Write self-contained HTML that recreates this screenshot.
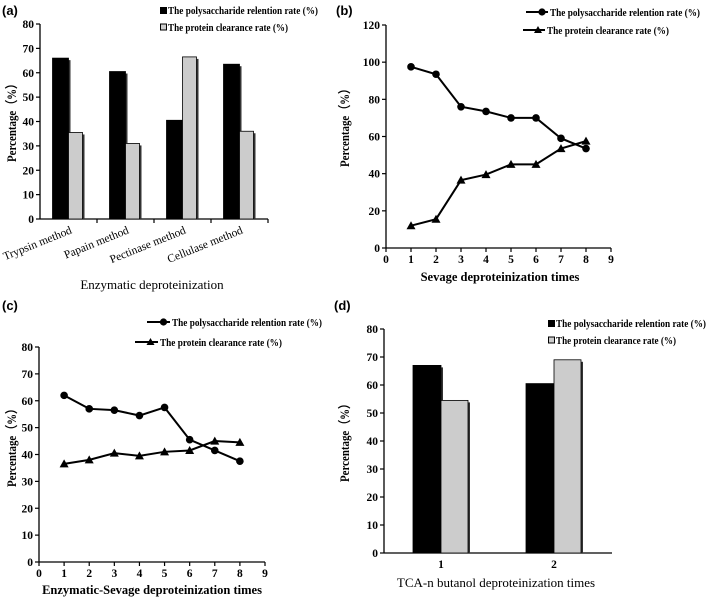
<!DOCTYPE html>
<html><head><meta charset="utf-8"><style>
body{margin:0;background:#fff}
svg{display:block}
text{font-family:"Liberation Serif",serif;font-weight:bold;fill:#000}
</style></head><body>
<svg id="fig" width="709" height="600" viewBox="0 0 709 600"></svg>
<script>
// Panel (a)
const aCats=["Trypsin method","Papain method","Pectinase method","Cellulase method"];
const aPoly=[66,60.5,40.5,63.5];
const aProt=[35.5,31,66.5,36];
const aTicks=[0,10,20,30,40,50,60,70,80];
// Panel (b)
const bX=[1,2,3,4,5,6,7,8];
const bPoly=[97.5,93.5,76,73.5,70,70,59,53.5];
const bProt=[12,15.5,36.5,39.5,45,45,53.5,57.5];
const bTicks=[0,20,40,60,80,100,120];
const xTicks=[0,1,2,3,4,5,6,7,8,9];
// Panel (c)
const cX=[1,2,3,4,5,6,7,8];
const cPoly=[62,57,56.5,54.5,57.5,45.5,41.5,37.5];
const cProt=[36.5,38,40.5,39.5,41,41.5,45,44.5];
const cTicks=[0,10,20,30,40,50,60,70,80];
// Panel (d)
const dCats=["1","2"];
const dPoly=[67,60.5];
const dProt=[54.5,69];
const dTicks=[0,10,20,30,40,50,60,70,80];

const NS="http://www.w3.org/2000/svg";
const svg=document.getElementById('fig');
function el(tag,attrs,parent,txt){const e=document.createElementNS(NS,tag);for(const k in attrs)e.setAttribute(k,attrs[k]);if(txt!==undefined)e.textContent=txt;(parent||svg).appendChild(e);return e;}
function grp(name){const g=el('g',{});return g;}

function yAxis(g,x0,yTop,yBot,ticks,max){
  const ys=v=>yBot-(v/max)*(yBot-yTop);
  const ax=el('line',{x1:x0,y1:yTop,x2:x0,y2:yBot,stroke:'#000','stroke-width':1.3},g);
  
  
  ticks.forEach(t=>{
    el('line',{x1:x0-4,y1:ys(t),x2:x0,y2:ys(t),stroke:'#000','stroke-width':1.2},g);
    const tl=el('text',{x:x0-6,y:ys(t)+4,'text-anchor':'end','font-size':11.5},g,t);
    
    
  });
  return ys;
}
function yTitle(g,x,y){
  const t=el('text',{x:x,y:y,'text-anchor':'middle','font-size':12.5,textLength:84,lengthAdjust:'spacingAndGlyphs',transform:`rotate(-90 ${x} ${y})`},g,'Percentage（%）');
  
  
}
function panelLabel(x,y,s){
  const t=el('text',{x:x,y:y,'font-size':13,style:'font-family:"Liberation Sans",sans-serif'},svg,s);
  
  
}
function bar(g,x,w,y0,y1,fill,name){
  el('rect',{x:x+2,y:y1+2,width:w,height:y0-y1-2,fill:'#333'},g);
  const r=el('rect',{x:x,y:y1,width:w,height:y0-y1,fill:fill,stroke:'#000','stroke-width':0.8},g);
  
  
}
function legText(g,x,y,s,len){
  const t=el('text',{x:x,y:y,'font-size':11,textLength:len,lengthAdjust:'spacingAndGlyphs'},g,s);
  
  
}
function barLegend(g,x,y){
  el('rect',{x:x,y:y-7,width:7,height:7,fill:'#000'},g);
  legText(g,x+8,y,'The polysaccharide relention rate (%)',150);
  el('rect',{x:x+0.5,y:y+10,width:6,height:6,fill:'#ccc',stroke:'#000','stroke-width':1},g);
  legText(g,x+8,y+17,'The protein clearance rate (%)',120);
}
function lineLegend(g,x1,x2,y1,x3,x4,y2){
  el('line',{x1:x1,y1:y1,x2:x2,y2:y1,stroke:'#000','stroke-width':2},g);
  el('circle',{cx:(x1+x2)/2+5,cy:y1,r:3.6,fill:'#000'},g);
  legText(g,x2+2,y1+4,'The polysaccharide relention rate (%)',150);
  el('line',{x1:x3,y1:y2,x2:x4,y2:y2,stroke:'#000','stroke-width':2},g);
  const cx=(x3+x4)/2+4;
  el('polygon',{points:`${cx-4},${y2+3} ${cx+4},${y2+3} ${cx},${y2-4}`,fill:'#000'},g);
  legText(g,x4+2,y2+4,'The protein clearance rate (%)',122);
}
function linePanel(g,X,P,Q,ticks,max,x0,x9,yTop,yBot,title,titleX,titleY){
  const ys=yAxis(g,x0,yTop,yBot,ticks,max);
  const xs=v=>x0+v/9*(x9-x0);
  const ax=el('line',{x1:x0,y1:yBot,x2:x9,y2:yBot,stroke:'#000','stroke-width':1.3},g);
  
  
  xTicks.forEach(t=>{
    el('line',{x1:xs(t),y1:yBot,x2:xs(t),y2:yBot+4,stroke:'#000','stroke-width':1.2},g);
    const tl=el('text',{x:xs(t),y:yBot+15,'text-anchor':'middle','font-size':11.5},g,t);
    
    
  });
  const pl=el('polyline',{points:X.map((x,i)=>xs(x)+','+ys(P[i])).join(' '),fill:'none',stroke:'#000','stroke-width':2},g);
  
  
  X.forEach((x,i)=>{const c=el('circle',{cx:xs(x),cy:ys(P[i]),r:3.8,fill:'#000'},g);
    
    });
  const ql=el('polyline',{points:X.map((x,i)=>xs(x)+','+ys(Q[i])).join(' '),fill:'none',stroke:'#000','stroke-width':2},g);
  
  
  X.forEach((x,i)=>{const cx=xs(x),cy=ys(Q[i]);
    const p=el('polygon',{points:`${cx-4.5},${cy+3.5} ${cx+4.5},${cy+3.5} ${cx},${cy-4.5}`,fill:'#000'},g);
    
    });
  const tt=el('text',{x:titleX,y:titleY,'text-anchor':'middle','font-size':12.5},g,title);
  
  
}

// ---- (a)
{
  const g=grp('panel-a');
  panelLabel(2,15,'(a)');
  const x0=40,x1=268,yTop=24,yBot=219;
  const ys=yAxis(g,x0,yTop,yBot,aTicks,80);
  const ax=el('line',{x1:x0,y1:yBot,x2:x1,y2:yBot,stroke:'#000','stroke-width':1.3},g);
  
  
  const gw=(x1-x0)/aCats.length;
  aCats.forEach((c,i)=>{
    const cx=x0+gw*(i+0.5);
    el('line',{x1:x0+gw*(i+1),y1:yBot,x2:x0+gw*(i+1),y2:yBot+4,stroke:'#000','stroke-width':1.2},g);
    bar(g,cx-16,16,yBot,ys(aPoly[i]),'#000','bar-polysaccharide');
    bar(g,cx,14,yBot,ys(aProt[i]),'#ccc','bar-protein');
    const t=el('text',{x:cx+4,y:yBot+14,'text-anchor':'end','font-size':11.5,style:'font-weight:normal',transform:`rotate(-22 ${cx+4} ${yBot+14})`},g,c);
    
    
  });
  yTitle(g,16,120);
  const tt=el('text',{x:152,y:289,'text-anchor':'middle','font-size':13,style:'font-weight:normal'},g,'Enzymatic deproteinization');
  
  
  barLegend(g,160,14);
}
// ---- (b)
{
  const g=grp('panel-b');
  panelLabel(336,15,'(b)');
  yTitle(g,349,125);
  linePanel(g,bX,bPoly,bProt,bTicks,120,386,611,25,248,'Sevage deproteinization times',500,281);
  lineLegend(g,526,548,12,523,545,30);
}
// ---- (c)
{
  const g=grp('panel-c');
  panelLabel(2,310,'(c)');
  yTitle(g,16,445);
  linePanel(g,cX,cPoly,cProt,cTicks,80,39,265,347,562,'Enzymatic-Sevage deproteinization times',152,594);
  lineLegend(g,147,170,322,135,158,342);
}
// ---- (d)
{
  const g=grp('panel-d');
  panelLabel(334,310,'(d)');
  const x0=384,x1=612,yTop=329,yBot=553;
  const ys=yAxis(g,x0,yTop,yBot,dTicks,80);
  const ax=el('line',{x1:x0,y1:yBot,x2:x1,y2:yBot,stroke:'#000','stroke-width':1.3},g);
  
  
  const centers=[441,554];
  dCats.forEach((c,i)=>{
    const cx=centers[i];
    bar(g,cx-28,28,yBot,ys(dPoly[i]),'#000','bar-polysaccharide');
    bar(g,cx,27,yBot,ys(dProt[i]),'#ccc','bar-protein');
    const t=el('text',{x:cx,y:yBot+15,'text-anchor':'middle','font-size':11.5},g,c);
    
    
  });
  yTitle(g,349,440);
  const tt=el('text',{x:496,y:587,'text-anchor':'middle','font-size':13,style:'font-weight:normal'},g,'TCA-n butanol deproteinization times');
  
  
  barLegend(g,548,327);
}
</script>
</body></html>
